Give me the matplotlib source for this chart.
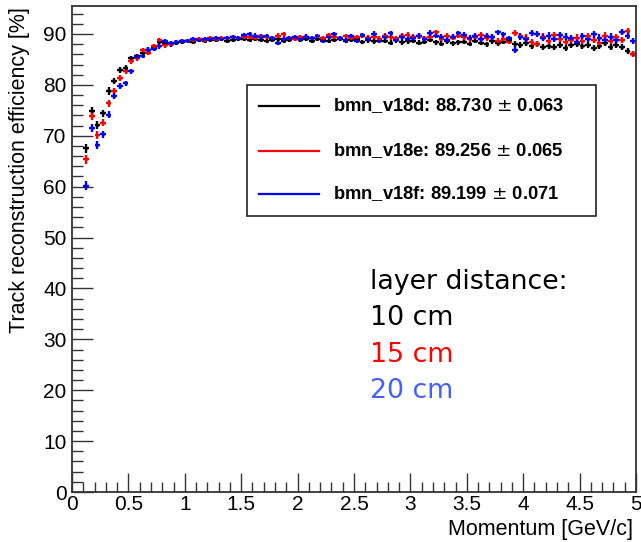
import numpy as np
import matplotlib
matplotlib.use("Agg")
import matplotlib.pyplot as plt
from matplotlib.lines import Line2D
from matplotlib.patches import Rectangle
from matplotlib.ticker import MultipleLocator, FuncFormatter

plt.rcParams["font.family"] = ["Liberation Sans", "DejaVu Sans"]

# Momentum binning: 0.05 GeV/c bins from 0.1 to 5.0 GeV/c
p_min, p_max, bin_width = 0.1, 5.0, 0.05
p_centers = np.arange(p_min + bin_width / 2, p_max, bin_width)

eff_v18d = [
    67.5, 74.8, 72.1, 74.4, 78.8, 80.7, 82.9, 83.4, 85.2, 85.6,
    86.3, 86.9, 87.5, 88.4, 88.2, 88.0, 88.3, 88.4, 88.6, 88.5,
    88.8, 88.7, 88.9, 88.8, 89.0, 88.7, 88.9, 89.1, 89.0, 88.8,
    89.1, 88.9, 88.7, 88.8, 89.0, 88.6, 88.9, 89.2, 88.8, 89.0,
    88.7, 89.1, 88.9, 88.6, 88.9, 89.0, 88.7, 88.8, 89.1, 88.5,
    88.8, 88.6, 88.9, 88.7, 88.3, 88.8, 88.4, 88.6, 88.7, 88.3,
    88.5, 88.9, 88.4, 88.1, 88.6, 88.2, 88.4, 88.5, 88.1, 88.7,
    88.3, 88.0, 88.6, 88.2, 88.5, 88.8, 88.1, 87.8, 88.3, 87.7,
    88.0, 87.4, 87.6, 87.5, 87.9, 87.3, 87.8, 88.1, 87.6, 87.9,
    87.3, 87.7, 88.2, 87.5, 87.8, 87.4, 86.6, 86.0,
]
eff_v18e = [
    65.4, 73.9, 70.1, 72.6, 76.4, 78.8, 81.4, 82.7, 84.6, 85.2,
    86.8, 86.3, 87.6, 88.8, 87.8, 88.1, 88.4, 88.6, 88.7, 88.9,
    89.0, 88.9, 89.2, 89.1, 89.3, 89.2, 89.4, 89.2, 89.5, 89.4,
    89.3, 89.6, 89.4, 89.2, 89.7, 89.9, 89.3, 89.1, 89.4, 89.5,
    89.2, 89.6, 89.3, 89.8, 89.5, 89.3, 89.6, 89.2, 89.4, 89.7,
    89.3, 89.5, 89.1, 89.6, 89.4, 89.2, 89.6, 89.8, 89.4, 89.6,
    89.2, 89.5, 90.3, 89.1, 89.6, 89.3, 89.7, 89.4, 89.0, 89.5,
    89.8, 89.2, 89.4, 88.7, 89.1, 88.5, 90.2, 89.6, 89.3, 88.4,
    88.0, 89.5, 88.6, 89.8, 89.0, 88.4, 88.8, 89.3, 88.7, 89.6,
    88.9, 88.3, 89.7, 88.6, 89.4, 88.8, 90.5, 86.0,
]
eff_v18f = [
    60.2, 71.5, 68.2, 70.3, 74.1, 77.8, 79.8, 80.3, 82.7, 85.5,
    85.7, 86.9, 87.1, 87.6, 88.6, 88.2, 88.5, 88.7, 88.6, 89.0,
    88.9, 89.1, 89.0, 89.2, 89.1, 89.3, 89.4, 89.2, 89.8, 90.0,
    89.7, 89.5, 89.6, 89.3, 88.3, 89.0, 89.2, 89.4, 89.1, 89.5,
    89.3, 89.6, 88.7, 89.4, 89.9, 89.2, 88.8, 89.6, 88.6, 89.8,
    89.1, 90.0, 88.7, 89.5, 90.1, 88.9, 89.4, 89.0, 89.3, 89.6,
    89.1, 90.2, 89.7, 89.4, 88.9, 89.5, 90.1, 89.8, 89.3, 89.6,
    89.0, 89.7, 89.4, 90.3, 89.9, 89.2, 86.8, 89.5, 89.1, 90.2,
    90.0, 89.3, 89.7, 89.0, 89.8, 89.5, 89.2, 88.5, 89.6, 89.1,
    89.9, 89.3, 88.8, 89.5, 88.9, 90.4, 89.7, 88.6,
]

# Statistical uncertainty per bin (%)
eff_err = [
    0.9, 0.8, 0.8, 0.7, 0.7, 0.6, 0.6, 0.5, 0.5, 0.5,
    0.5, 0.5, 0.5, 0.5, 0.5, 0.5, 0.4, 0.4, 0.4, 0.4,
    0.4, 0.4, 0.4, 0.4, 0.4, 0.4, 0.4, 0.4, 0.4, 0.4,
    0.4, 0.4, 0.4, 0.4, 0.4, 0.4, 0.4, 0.4, 0.4, 0.4,
    0.4, 0.4, 0.4, 0.4, 0.4, 0.4, 0.4, 0.4, 0.4, 0.4,
    0.5, 0.5, 0.5, 0.5, 0.5, 0.5, 0.5, 0.5, 0.5, 0.5,
    0.5, 0.5, 0.5, 0.5, 0.5, 0.5, 0.5, 0.5, 0.5, 0.5,
    0.5, 0.5, 0.5, 0.5, 0.5, 0.5, 0.6, 0.6, 0.6, 0.6,
    0.6, 0.6, 0.6, 0.6, 0.6, 0.6, 0.6, 0.6, 0.6, 0.6,
    0.6, 0.6, 0.6, 0.6, 0.6, 0.6, 0.6, 0.6,
]

series_names = ["bmn_v18d", "bmn_v18e", "bmn_v18f"]
series_means = ["88.730", "89.256", "89.199"]
series_mean_errs = ["0.063", "0.065", "0.071"]
series_colors = ["#000000", "#ff0000", "#0000ff"]
series_values = [eff_v18d, eff_v18e, eff_v18f]

layer_labels = ["10 cm", "15 cm", "20 cm"]
layer_colors = ["#000000", "#ff0000", "#4060ff"]

W, H = 641, 542
fig = plt.figure(figsize=(W / 100, H / 100), dpi=100)
ax = fig.add_axes([72 / W, 1 - 492 / H, 564 / W, 486 / H])

for vals, col in zip(series_values, series_colors):
    ax.errorbar(p_centers, vals, xerr=bin_width / 2, yerr=eff_err,
                fmt="o", ms=2.2, color=col, ecolor=col, elinewidth=1.7,
                capsize=0, mew=0)

ax.set_xlim(0, 5)
ax.set_ylim(0, 95.5)

ax.xaxis.set_major_locator(MultipleLocator(0.5))
ax.xaxis.set_minor_locator(MultipleLocator(0.1))
ax.yaxis.set_major_locator(MultipleLocator(10))
ax.yaxis.set_minor_locator(MultipleLocator(2))
ax.xaxis.set_major_formatter(FuncFormatter(lambda v, _: f"{v:g}"))
ax.yaxis.set_major_formatter(FuncFormatter(lambda v, _: f"{v:g}"))

ax.tick_params(axis="both", which="both", direction="in", top=False,
               right=False, labelsize=15, color="#333333")
ax.tick_params(axis="x", which="major", length=14, width=1.0, pad=2)
ax.tick_params(axis="x", which="minor", length=7, width=1.0)
ax.tick_params(axis="y", which="major", length=15, width=1.0, pad=4)
ax.tick_params(axis="y", which="minor", length=8, width=1.0)
for s in ax.spines.values():
    s.set_linewidth(1.3)
    s.set_color("#333333")

fig.text(20 / W, 1 - 7 / H, "Track reconstruction efficiency [%]",
         rotation=90, ha="center", va="top", fontsize=15.5)
fig.text(633 / W, 1 - 530 / H, "Momentum [GeV/c]", ha="right",
         va="center", fontsize=15.5)

# Legend box with fitted plateau values
box = Rectangle((247 / W, 1 - 216 / H), (596 - 247) / W, (216 - 85) / H,
                transform=fig.transFigure, facecolor="white",
                edgecolor="#222222", linewidth=1.2, zorder=5)
fig.add_artist(box)
legend_y = [105.7, 150.7, 194.0]
for y, name, m, e, col in zip(legend_y, series_names, series_means,
                              series_mean_errs, series_colors):
    fig.add_artist(Line2D([259 / W, 319 / W], [1 - y / H, 1 - y / H],
                          transform=fig.transFigure, color=col, lw=1.6,
                          zorder=6))
    fig.text(333 / W, 1 - y / H, f"{name}: {m} $\\pm$ {e}",
             ha="left", va="center", fontsize=13.2, fontweight="bold",
             zorder=6)

# Layer-distance annotation
fig.text(370 / W, 1 - 282 / H, "layer distance:", ha="left", va="center",
         fontsize=19.3, family=["DejaVu Sans"])
for y, lab, col in zip([318, 355, 391], layer_labels, layer_colors):
    fig.text(370 / W, 1 - y / H, lab, ha="left", va="center",
             fontsize=19.3, color=col, family=["DejaVu Sans"])

fig.savefig("out.png", dpi=100)
